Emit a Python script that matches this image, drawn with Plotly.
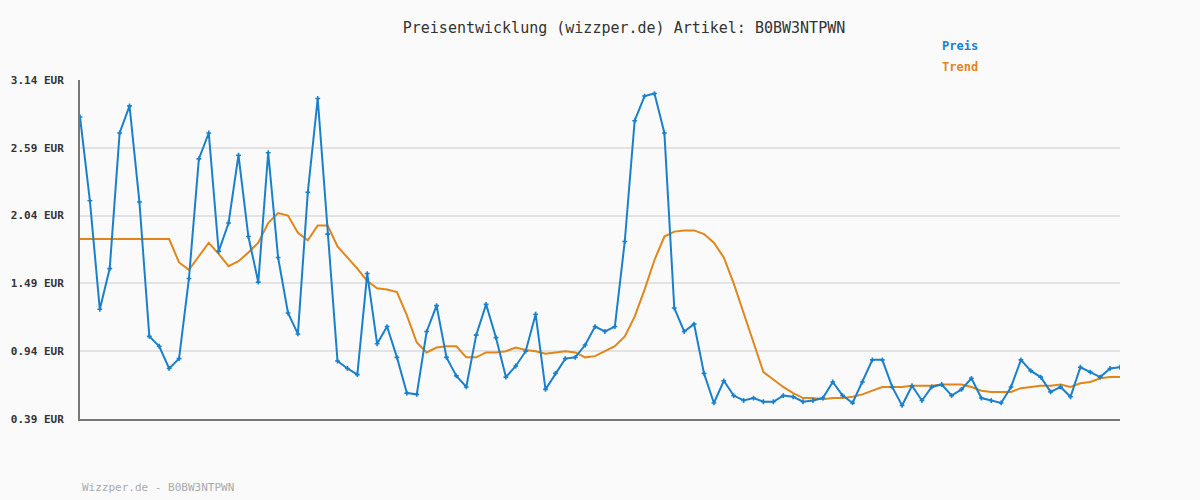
import plotly.graph_objects as go

# Price history (EUR)
preis = [2.84, 2.16, 1.28, 1.61, 2.71, 2.93, 2.15, 1.06, 0.98, 0.80,
         0.88, 1.53, 2.50, 2.71, 1.75, 1.98, 2.53, 1.87, 1.50, 2.55,
         1.70, 1.25, 1.08, 2.23, 2.99, 1.89, 0.86, 0.80, 0.75, 1.57,
         1.00, 1.14, 0.89, 0.60, 0.59, 1.10, 1.31, 0.89, 0.74, 0.65,
         1.07, 1.32, 1.05, 0.73, 0.82, 0.94, 1.24, 0.63, 0.76, 0.88,
         0.89, 0.99, 1.14, 1.10, 1.14, 1.83, 2.81, 3.01, 3.03, 2.71,
         1.29, 1.10, 1.16, 0.76, 0.52, 0.70, 0.58, 0.54, 0.56, 0.53,
         0.53, 0.58, 0.57, 0.53, 0.54, 0.56, 0.69, 0.58, 0.52, 0.69,
         0.87, 0.87, 0.65, 0.50, 0.66, 0.54, 0.65, 0.67, 0.58, 0.63,
         0.72, 0.56, 0.54, 0.52, 0.65, 0.87, 0.78, 0.73, 0.61, 0.65,
         0.57, 0.81, 0.77, 0.73, 0.80, 0.81]

trend = [1.85, 1.85, 1.85, 1.85, 1.85, 1.85, 1.85, 1.85, 1.85, 1.85,
         1.66, 1.60, 1.71, 1.82, 1.73, 1.63, 1.67, 1.74, 1.82, 1.98,
         2.06, 2.04, 1.90, 1.84, 1.96, 1.96, 1.79, 1.70, 1.61, 1.51,
         1.45, 1.44, 1.42, 1.23, 1.01, 0.93, 0.97, 0.98, 0.98, 0.89,
         0.89, 0.93, 0.93, 0.94, 0.97, 0.95, 0.94, 0.92, 0.93, 0.94,
         0.93, 0.89, 0.90, 0.94, 0.98, 1.06, 1.22, 1.44, 1.68, 1.87,
         1.91, 1.92, 1.92, 1.89, 1.82, 1.70, 1.49, 1.25, 1.01, 0.77,
         0.71, 0.65, 0.60, 0.56, 0.56, 0.55, 0.56, 0.56, 0.57, 0.59,
         0.62, 0.65, 0.65, 0.65, 0.66, 0.66, 0.66, 0.67, 0.67, 0.67,
         0.65, 0.62, 0.61, 0.61, 0.61, 0.64, 0.65, 0.66, 0.66, 0.67,
         0.65, 0.68, 0.69, 0.72, 0.73, 0.73]

tick_vals = [0.39, 0.94, 1.49, 2.04, 2.59, 3.14]
tick_text = [f"<b>{v:.2f} EUR</b>" for v in tick_vals]

BLUE = "#1a80cc"
ORANGE = "#e0861a"
FONT = "DejaVu Sans Mono"

x = list(range(len(preis)))

fig = go.Figure()
fig.add_trace(go.Scatter(x=x, y=trend, mode="lines", name="Trend",
                         line=dict(color=ORANGE, width=2)))
fig.add_trace(go.Scatter(x=x, y=preis, mode="lines+markers", name="Preis",
                         line=dict(color=BLUE, width=2),
                         marker=dict(symbol="cross", size=4, color=BLUE)))

fig.update_layout(
    width=1200, height=500,
    margin=dict(l=80, r=80, t=80, b=81),
    paper_bgcolor="#fafafa", plot_bgcolor="#fafafa",
    font=dict(family=FONT, size=12, color="#333"),
    showlegend=False,
    title=dict(text="Preisentwicklung (wizzper.de) Artikel: B0BW3NTPWN",
               x=0.52, y=0.944, xanchor="center", yanchor="middle",
               font=dict(size=15, color="#333")),
    xaxis=dict(range=[0, len(preis) - 1], showgrid=False, showticklabels=False,
               zeroline=False, showline=True, linecolor="#777", linewidth=2),
    yaxis=dict(range=[0.39, 3.14], tickvals=tick_vals, ticktext=tick_text,
               showgrid=True, gridcolor="#e3e3e3", gridwidth=2, zeroline=False,
               showline=True, linecolor="#777", linewidth=2,
               ticklabelstandoff=12,
               tickfont=dict(size=11, color="#333")),
    annotations=[
        dict(text="<b>Preis</b>", x=940, y=46, showarrow=False,
             font=dict(color=BLUE, size=12)),
        dict(text="<b>Trend</b>", x=940, y=67, showarrow=False,
             font=dict(color=ORANGE, size=12)),
        dict(text="Wizzper.de - B0BW3NTPWN", x=80, y=487, showarrow=False,
             font=dict(color="#aaa", size=11)),
    ],
)

# place annotations in pixel terms relative to the plot area
pw, ph = 1200 - 160, 500 - 161
for a in fig.layout.annotations:
    a.xref = "paper"
    a.yref = "paper"
    a.xanchor = "left"
    a.yanchor = "middle"
    a.x = (a.x - 80) / pw
    a.y = (419 - a.y) / ph

fig.write_html("out.html", config={"displayModeBar": False},
               post_script="document.body.style.margin='0';document.body.style.background='#fafafa';")
